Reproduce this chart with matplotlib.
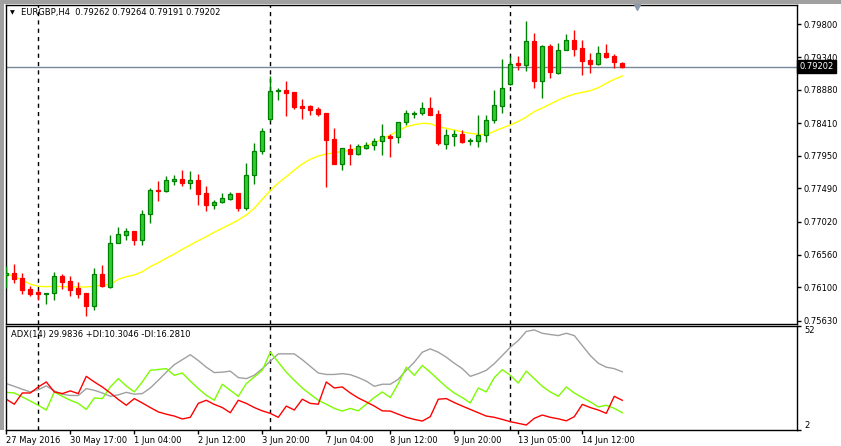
import matplotlib

matplotlib.use('Agg')
import matplotlib.pyplot as plt
import matplotlib.transforms as mtransforms
from matplotlib.lines import Line2D
from matplotlib.patches import Rectangle
import numpy as np

W, H = 841, 446

# EURGBP H4 candles
opens = [
    0.76268, 0.76301, 0.76231, 0.76076, 0.76034, 0.76001, 0.76015, 0.76259, 0.76184, 0.76094,
    0.76020, 0.75841, 0.76287, 0.76108, 0.76719, 0.76840, 0.76892, 0.76769, 0.77127, 0.77469,
    0.77459, 0.77600, 0.77619, 0.77571, 0.77609, 0.77426, 0.77262, 0.77296, 0.77346, 0.77426,
    0.77220, 0.77676, 0.78013, 0.78472, 0.78866, 0.78872, 0.78848, 0.78651, 0.78651, 0.78608,
    0.78552, 0.78186, 0.77839, 0.78046, 0.77979, 0.78064, 0.78098, 0.78154, 0.78224, 0.78210,
    0.78421, 0.78534, 0.78548, 0.78618, 0.78538, 0.78120, 0.78233, 0.78252, 0.78154, 0.78162,
    0.78238, 0.78449, 0.78655, 0.78964, 0.79256, 0.79232, 0.79561, 0.79007, 0.79495, 0.79119,
    0.79434, 0.79575, 0.79467, 0.79294, 0.79237, 0.79396, 0.79350, 0.79262]
highs = [
    0.76399, 0.76428, 0.76301, 0.76114, 0.76066, 0.76020, 0.76315, 0.76287, 0.76259, 0.76174,
    0.76020, 0.76371, 0.76413, 0.76836, 0.76948, 0.76930, 0.76892, 0.77187, 0.77493, 0.77595,
    0.77666, 0.77680, 0.77750, 0.77736, 0.77694, 0.77525, 0.77328, 0.77426, 0.77436, 0.77426,
    0.77849, 0.78130, 0.78341, 0.79073, 0.78904, 0.79002, 0.78848, 0.78749, 0.78665, 0.78637,
    0.78552, 0.78341, 0.78055, 0.78116, 0.78112, 0.78144, 0.78200, 0.78397, 0.78257, 0.78421,
    0.78590, 0.78580, 0.78707, 0.78777, 0.78594, 0.78327, 0.78313, 0.78313, 0.78200, 0.78524,
    0.78524, 0.78876, 0.79308, 0.79350, 0.79350, 0.79846, 0.79678, 0.79513, 0.79523, 0.79537,
    0.79664, 0.79720, 0.79579, 0.79396, 0.79495, 0.79523, 0.79382, 0.79264]
lows = [
    0.76094, 0.76156, 0.76010, 0.75982, 0.75917, 0.75869, 0.75921, 0.76080, 0.75982, 0.75953,
    0.75700, 0.75785, 0.76104, 0.76094, 0.76719, 0.76769, 0.76699, 0.76699, 0.77009, 0.77314,
    0.77441, 0.77543, 0.77525, 0.77483, 0.77258, 0.77178, 0.77206, 0.77282, 0.77324, 0.77178,
    0.77192, 0.77557, 0.77975, 0.78435, 0.78739, 0.78514, 0.78613, 0.78472, 0.78528, 0.78514,
    0.77511, 0.77839, 0.77754, 0.77825, 0.77965, 0.78046, 0.78036, 0.77965, 0.77937, 0.78134,
    0.78387, 0.78486, 0.78528, 0.78528, 0.78106, 0.78050, 0.78092, 0.78126, 0.78106, 0.78078,
    0.78148, 0.78416, 0.78552, 0.78950, 0.79157, 0.79143, 0.78908, 0.78763, 0.79049, 0.79105,
    0.79434, 0.79358, 0.79091, 0.79111, 0.79232, 0.79330, 0.79190, 0.79191]
closes = [
    0.76297, 0.76221, 0.76062, 0.76001, 0.76001, 0.76020, 0.76259, 0.76179, 0.76066, 0.76010,
    0.75841, 0.76283, 0.76121, 0.76719, 0.76845, 0.76892, 0.76769, 0.77127, 0.77465, 0.77459,
    0.77605, 0.77624, 0.77571, 0.77605, 0.77417, 0.77262, 0.77296, 0.77352, 0.77408, 0.77220,
    0.77676, 0.78017, 0.78299, 0.78857, 0.78872, 0.78838, 0.78641, 0.78627, 0.78599, 0.78542,
    0.78172, 0.77839, 0.78055, 0.77979, 0.78084, 0.78098, 0.78154, 0.78224, 0.78205, 0.78421,
    0.78552, 0.78552, 0.78618, 0.78528, 0.78134, 0.78238, 0.78252, 0.78148, 0.78172, 0.78238,
    0.78449, 0.78665, 0.78900, 0.79237, 0.79223, 0.79561, 0.79007, 0.79491, 0.79133, 0.79434,
    0.79575, 0.79457, 0.79284, 0.79237, 0.79392, 0.79344, 0.79265, 0.79202]

# yellow moving average
ma = [
    0.76287, 0.76249, 0.76202, 0.76142, 0.76114, 0.76108, 0.76114, 0.76108, 0.76104, 0.76104,
    0.76104, 0.76114, 0.76132, 0.76139, 0.76212, 0.76249, 0.76273, 0.76319, 0.76390, 0.76446,
    0.76508, 0.76568, 0.76634, 0.76695, 0.76755, 0.76812, 0.76874, 0.76930, 0.76986, 0.77047,
    0.77117, 0.77211, 0.77338, 0.77462, 0.77567, 0.77656, 0.77750, 0.77835, 0.77901, 0.77947,
    0.77975, 0.77994, 0.78008, 0.78032, 0.78060, 0.78092, 0.78134, 0.78186, 0.78243, 0.78303,
    0.78359, 0.78387, 0.78407, 0.78402, 0.78359, 0.78337, 0.78313, 0.78285, 0.78267, 0.78252,
    0.78247, 0.78295, 0.78341, 0.78383, 0.78433, 0.78496, 0.78573, 0.78622, 0.78679, 0.78735,
    0.78781, 0.78819, 0.78843, 0.78866, 0.78908, 0.78970, 0.79026, 0.79073]

# ADX(14) panel
adx = [
    24.3, 23.0, 21.6, 20.3, 21.4, 23.2, 20.8, 19.2, 18.6, 18.6,
    21.9, 21.1, 19.8, 18.2, 18.9, 20.1, 19.2, 19.5, 22.2, 25.9,
    29.8, 33.4, 35.8, 38.2, 35.4, 32.2, 29.6, 29.8, 30.3, 27.2,
    26.7, 28.3, 31.5, 35.1, 38.6, 38.6, 38.6, 35.8, 32.6, 29.4,
    28.7, 28.7, 29.1, 28.6, 27.2, 25.5, 23.0, 24.0, 24.0, 26.4,
    30.7, 34.6, 39.4, 41.0, 39.4, 37.0, 34.1, 31.5, 27.8, 29.1,
    30.7, 33.9, 37.8, 41.8, 45.0, 49.4, 50.1, 48.5, 47.9, 47.4,
    48.5, 47.4, 42.6, 37.8, 34.1, 32.2, 31.5, 29.98]
plus_di = [
    20.1, 19.8, 17.9, 15.9, 13.9, 11.6, 20.3, 18.2, 16.3, 14.8,
    11.9, 17.4, 17.1, 22.7, 26.7, 23.2, 20.3, 25.1, 30.7, 31.1,
    31.5, 28.3, 29.4, 25.5, 21.9, 18.7, 16.3, 24.0, 21.1, 18.2,
    24.3, 27.5, 30.7, 39.4, 34.6, 29.8, 25.9, 22.2, 19.2, 16.3,
    14.4, 12.4, 11.1, 12.4, 11.2, 14.4, 17.6, 20.3, 17.6, 24.3,
    32.2, 28.3, 33.0, 29.8, 26.2, 22.7, 19.8, 17.6, 15.0, 22.2,
    20.3, 27.2, 31.0, 28.3, 24.6, 30.3, 26.7, 23.0, 20.3, 18.2,
    22.7, 19.8, 17.6, 15.5, 13.1, 13.9, 12.4, 10.30]
minus_di = [
    16.8, 14.4, 19.8, 19.8, 22.7, 25.1, 20.3, 19.5, 20.8, 19.5,
    27.8, 25.1, 22.7, 19.8, 16.7, 13.9, 17.1, 15.0, 12.8, 10.7,
    9.6, 8.7, 7.3, 8.1, 14.8, 16.3, 14.3, 12.8, 10.3, 16.3,
    14.8, 12.8, 11.2, 10.0, 8.1, 13.5, 11.6, 16.8, 14.8, 14.4,
    25.1, 22.2, 22.7, 19.8, 17.4, 15.5, 13.5, 11.2, 11.1, 9.6,
    8.1, 7.1, 6.3, 8.4, 16.8, 17.1, 15.2, 13.5, 11.9, 10.3,
    8.7, 8.1, 7.1, 6.0, 5.2, 4.4, 7.6, 9.2, 8.1, 7.4,
    6.4, 8.4, 14.3, 12.8, 11.6, 10.0, 18.2, 16.28]

price_ticks = [0.79800, 0.79340, 0.78880, 0.78410, 0.77950,
               0.77490, 0.77020, 0.76560, 0.76100, 0.75630]
time_ticks = [0, 8, 16, 24, 32, 40, 48, 56, 64, 72]
time_labels = ['27 May 2016', '30 May 17:00', '1 Jun 04:00', '2 Jun 12:00',
               '3 Jun 20:00', '7 Jun 04:00', '8 Jun 12:00', '9 Jun 20:00',
               '13 Jun 05:00', '14 Jun 12:00']
separators = [4, 33, 63]
last_price = 0.79202

FS = 6
plt.rcParams['font.family'] = ['DejaVu Sans']


def rect(x0, y0, x1, y1):
    # pixel box -> figure fraction
    return [x0 / W, 1 - y1 / H, (x1 - x0) / W, (y1 - y0) / H]


fig = plt.figure(figsize=(W / 100, H / 100), dpi=100)
fig.patch.set_facecolor('white')

# window border (grey strips top/left)
fig.patches.append(Rectangle((0, 1 - 3.5 / H), 1, 3.5 / H, transform=fig.transFigure,
                             facecolor='#a0a0a0', edgecolor='none'))
fig.patches.append(Rectangle((0, 1 - 430 / H), 4 / W, 430 / H, transform=fig.transFigure,
                             facecolor='#a0a0a0', edgecolor='none'))

ax = fig.add_axes(rect(5.5, 4.5, 797, 323.5))
ax2 = fig.add_axes(rect(5.5, 326, 797, 430))

o = np.array(opens)
h = np.array(highs)
l = np.array(lows)
c = np.array(closes)
x = np.arange(len(c))
up = c >= o

for mask, face, edge in [(up, '#32cd32', '#008000'), (~up, '#ff0000', '#ff0000')]:
    ax.vlines(x[mask], l[mask], h[mask], color=edge, lw=1, zorder=3)
    ax.bar(x[mask], np.abs(c - o)[mask], bottom=np.minimum(o, c)[mask], width=0.55,
           color=face, edgecolor=edge, lw=0.9, zorder=4)

ax.plot(x, ma, color='#ffff00', lw=1, zorder=2)
ax.axhline(last_price, color='#778899', lw=1, zorder=1)

for a in (ax, ax2):
    for s in separators:
        a.axvline(s, color='black', lw=1, ls=(0, (3, 3)), zorder=1)
    a.set_xlim(-0.1, 98.84)
    for sp in a.spines.values():
        sp.set_color('black')
        sp.set_linewidth(1)

ax.set_ylim(0.75590, 0.80079)
ax.set_xticks([])
ax.yaxis.tick_right()
ax.set_yticks(price_ticks)
ax.set_yticklabels([f'{p:.5f}' for p in price_ticks])
ax.tick_params(axis='y', direction='out', length=3, width=1, pad=2, labelsize=FS)

trans = mtransforms.blended_transform_factory(ax.transAxes, ax.transData)
ax.text(1.003, last_price, f'{last_price:.5f}', transform=trans, color='white',
        fontsize=FS, va='center', ha='left',
        bbox=dict(boxstyle='square,pad=0.25', facecolor='black', edgecolor='black'))

# chart shift marker
fig.add_artist(Line2D([637 / W], [1 - 6.5 / H], marker='v', markersize=5,
                      color='#8a9aaa', transform=fig.transFigure))

fig.text(10 / W, 1 - 12.5 / H, '\u25bc', fontsize=4.5, va='center', ha='left')
fig.text(21 / W, 1 - 12.5 / H, 'EURGBP,H4  0.79262 0.79264 0.79191 0.79202',
         fontsize=FS, va='center', ha='left')

# ADX panel
ax2.plot(x, adx, color='#a0a0a0', lw=1)
ax2.plot(x, plus_di, color='#7cfc00', lw=1)
ax2.plot(x, minus_di, color='#ff0000', lw=1)
ax2.set_ylim(2, 52)
ax2.yaxis.tick_right()
ax2.set_yticks([52, 2])
ax2.set_yticklabels(['52', '2'])
ax2.tick_params(axis='y', direction='out', length=3, width=1, pad=2, labelsize=FS)
yl = ax2.get_yticklabels()
yl[0].set_va('top')
yl[1].set_va('bottom')

ax2.set_xticks(time_ticks)
ax2.set_xticklabels(time_labels, ha='left')
ax2.tick_params(axis='x', direction='out', length=3, width=1, pad=1.5, labelsize=FS)

fig.text(11 / W, 1 - 334.5 / H, 'ADX(14) 29.9836 +DI:10.3046 -DI:16.2810',
         fontsize=FS, va='center', ha='left')

fig.savefig('out.png', dpi=100)
